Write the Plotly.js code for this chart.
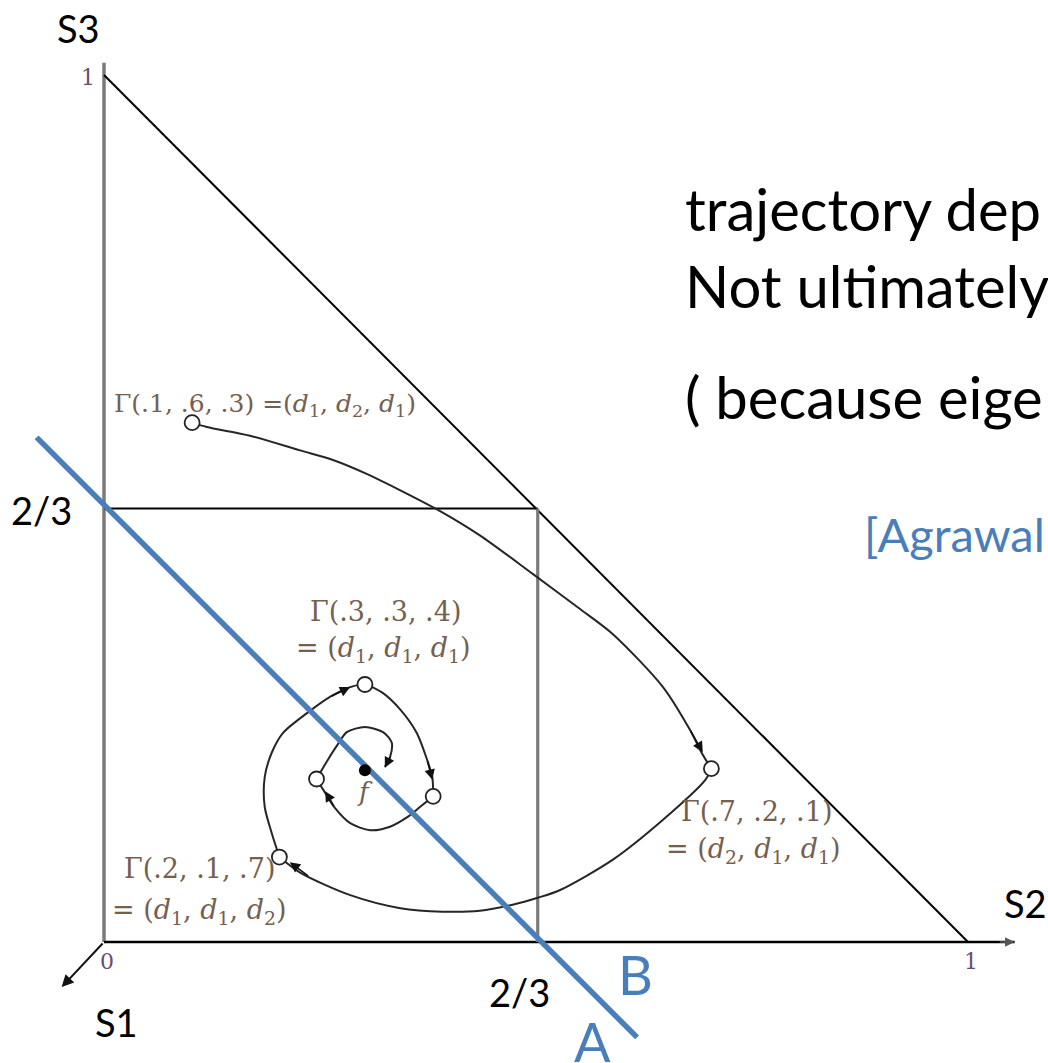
<!DOCTYPE html>
<html>
<head>
<meta charset="utf-8">
<script src="https://cdn.plot.ly/plotly-3.0.1.min.js"></script>
<style>html,body{margin:0;padding:0;background:#fff;}#plot{width:1048px;height:1063px;}</style>
</head>
<body>
<div id="plot"></div>
<script>
// Start points Γ(...) (S2, S3 coordinates of the schematic simplex)
const startS2 = [0.102, 0.703, 0.203, 0.302, 0.381, 0.246];
const startS3 = [0.599, 0.200, 0.098, 0.297, 0.168, 0.188];
// Fixed point
const fixedS2 = [0.302];
const fixedS3 = [0.198];

// Trajectory segments
const seg1S2 = [0.102, 0.119, 0.169, 0.227, 0.265, 0.304, 0.343, 0.389, 0.435, 0.497, 0.551, 0.589, 0.647, 0.678, 0.693, 0.703];
const seg1S3 = [0.599, 0.594, 0.584, 0.567, 0.556, 0.540, 0.521, 0.497, 0.469, 0.424, 0.384, 0.355, 0.294, 0.245, 0.216, 0.200];
const seg2S2 = [0.703, 0.696, 0.647, 0.589, 0.528, 0.502, 0.473, 0.435, 0.392, 0.343, 0.285, 0.227, 0.203];
const seg2S3 = [0.200, 0.187, 0.141, 0.095, 0.060, 0.051, 0.043, 0.036, 0.035, 0.039, 0.054, 0.080, 0.098];
const seg3S2 = [0.203, 0.194, 0.186, 0.186, 0.194, 0.207, 0.235, 0.262, 0.285, 0.302];
const seg3S3 = [0.098, 0.126, 0.156, 0.190, 0.218, 0.241, 0.264, 0.283, 0.294, 0.298];
const seg4S2 = [0.302, 0.323, 0.343, 0.362, 0.374, 0.380, 0.381];
const seg4S3 = [0.298, 0.287, 0.268, 0.241, 0.210, 0.190, 0.168];
const seg5S2 = [0.381, 0.366, 0.351, 0.331, 0.308, 0.285, 0.267, 0.256, 0.246];
const seg5S3 = [0.168, 0.156, 0.144, 0.133, 0.129, 0.137, 0.155, 0.172, 0.188];
const seg6S2 = [0.246, 0.259, 0.270, 0.281, 0.302, 0.323, 0.333, 0.331, 0.325];
const seg6S3 = [0.188, 0.210, 0.227, 0.242, 0.248, 0.242, 0.230, 0.213, 0.202];

// Arrowheads along trajectories: tail -> tip
const arrowTailS2 = [0.678, 0.238, 0.262, 0.374, 0.267, 0.332];
const arrowTailS3 = [0.245, 0.075, 0.283, 0.210, 0.155, 0.215];
const arrowTipS2  = [0.693, 0.215, 0.285, 0.380, 0.256, 0.325];
const arrowTipS3  = [0.219, 0.092, 0.294, 0.187, 0.174, 0.201];

// Simplex frame
const frameS2 = [0, 1];
const frameS3 = [1, 0];
const boxS2 = [0, 0.502, 0.502];
const boxS3 = [0.5, 0.5, 0];
const yAxisS2 = [0, 0];
const yAxisS3 = [0, 1.014];
const xAxisS2 = [0, 1.054];
const xAxisS3 = [0, 0];
// Blue separating line
const blueS2 = [-0.078, 0.617];
const blueS3 = [0.582, -0.110];

// Labels
const gammaLabels = [
  "Γ(.1, .6, .3) =(<i>d</i><sub>1</sub>, <i>d</i><sub>2</sub>, <i>d</i><sub>1</sub>)",
  "Γ(.3, .3, .4)",
  "= (<i>d</i><sub>1</sub>, <i>d</i><sub>1</sub>, <i>d</i><sub>1</sub>)",
  "Γ(.2, .1, .7)",
  "= (<i>d</i><sub>1</sub>, <i>d</i><sub>1</sub>, <i>d</i><sub>2</sub>)",
  "Γ(.7, .2, .1)",
  "= (<i>d</i><sub>2</sub>, <i>d</i><sub>1</sub>, <i>d</i><sub>1</sub>)"
];
const gammaS2 = [0.009, 0.326, 0.323, 0.110, 0.111, 0.755, 0.752];
const gammaS3 = [0.619, 0.381, 0.337, 0.085, 0.035, 0.150, 0.106];
const gammaAnchor = ["left", "center", "center", "center", "center", "center", "center"];

const tickLabels = ["1", "0", "1"];
const tickS2 = [-0.019, 0.003, 1.003];
const tickS3 = [0.997, -0.023, -0.023];

const axisNames = ["S3", "S2", "S1", "2/3", "2/3"];
const axisNameS2 = [-0.030, 1.066, 0.015, -0.072, 0.481];
const axisNameS3 = [1.054, 0.045, -0.092, 0.498, -0.058];

const blueLetters = ["B", "A"];
const blueLetterS2 = [0.615, 0.565];
const blueLetterS3 = [-0.038, -0.115];

const noteLines = ["trajectory dep", "Not ultimately", "( because eige"];
const noteS3 = [0.846, 0.757, 0.629];
const citeText = "[Agrawal";

const BLUE = "#4a7ebb";
const CURVE = "#262626";

const traces = [];
function line(x, y, color, width, shape) {
  traces.push({x: x, y: y, mode: "lines", type: "scatter", hoverinfo: "skip",
    line: {color: color, width: width, shape: shape || "linear", smoothing: 0.8}});
}
line(yAxisS2, yAxisS3, "#7a7a7a", 3.5);
line(xAxisS2, xAxisS3, "#000", 2.6);
line(frameS2, frameS3, "#000", 2);
line(boxS2.slice(0, 2), boxS3.slice(0, 2), "#000", 2.2);
line(boxS2.slice(1), boxS3.slice(1), "#7a7a7a", 3.2);
[[seg1S2, seg1S3], [seg2S2, seg2S3], [seg3S2, seg3S3], [seg4S2, seg4S3], [seg5S2, seg5S3], [seg6S2, seg6S3]]
  .forEach(s => line(s[0], s[1], CURVE, 2, "spline"));
line(blueS2, blueS3, BLUE, 5.5);

traces.push({x: startS2, y: startS3, mode: "markers", type: "scatter", hoverinfo: "skip",
  marker: {symbol: "circle", size: 15, color: "#fff", line: {color: "#222", width: 1.8}}});
traces.push({x: fixedS2, y: fixedS3, mode: "markers", type: "scatter", hoverinfo: "skip",
  marker: {symbol: "circle", size: 12, color: "#000"}});

const annotations = [];
for (let i = 0; i < arrowTipS2.length; i++) {
  annotations.push({x: arrowTipS2[i], y: arrowTipS3[i], ax: arrowTailS2[i], ay: arrowTailS3[i],
    xref: "x", yref: "y", axref: "x", ayref: "y", text: "", showarrow: true,
    arrowhead: 2, arrowsize: 1.3, arrowwidth: 1.6, arrowcolor: "#111", standoff: 0});
}
// Axis arrows
annotations.push({x: 1.054, y: 0, ax: 1.035, ay: 0, xref: "x", yref: "y", axref: "x", ayref: "y",
  text: "", showarrow: true, arrowhead: 2, arrowsize: 1.2, arrowwidth: 1.6, arrowcolor: "#555"});
annotations.push({x: -0.049, y: -0.052, ax: 0, ay: 0, xref: "x", yref: "y", axref: "x", ayref: "y",
  text: "", showarrow: true, arrowhead: 2, arrowsize: 1.2, arrowwidth: 2, arrowcolor: "#111"});

for (let i = 0; i < gammaLabels.length; i++) {
  annotations.push({x: gammaS2[i], y: gammaS3[i], xref: "x", yref: "y", text: gammaLabels[i],
    showarrow: false, xanchor: gammaAnchor[i], yanchor: "middle",
    font: {family: "DejaVu Serif", size: i === 0 ? 25 : 27, color: "#75604f"}});
}
annotations.push({x: 0.302, y: 0.173, xref: "x", yref: "y", text: "<i>f</i>", showarrow: false,
  font: {family: "DejaVu Serif", size: 26, color: "#75604f"}});
for (let i = 0; i < tickLabels.length; i++) {
  annotations.push({x: tickS2[i], y: tickS3[i], xref: "x", yref: "y", text: tickLabels[i],
    showarrow: false, font: {family: "DejaVu Serif", size: 22, color: "#6b4c72"}});
}
for (let i = 0; i < axisNames.length; i++) {
  annotations.push({x: axisNameS2[i], y: axisNameS3[i], xref: "x", yref: "y", text: axisNames[i],
    showarrow: false, font: {family: "Lato", size: 38, color: "#000"}});
}
for (let i = 0; i < blueLetters.length; i++) {
  annotations.push({x: blueLetterS2[i], y: blueLetterS3[i], xref: "x", yref: "y", text: blueLetters[i],
    showarrow: false, font: {family: "Lato", size: 54, color: BLUE}});
}
for (let i = 0; i < noteLines.length; i++) {
  annotations.push({x: 0.670, y: noteS3[i], xref: "x", yref: "y", text: noteLines[i],
    showarrow: false, xanchor: "left", yanchor: "middle",
    font: {family: "Lato", size: 58, color: "#000"}});
}
annotations.push({x: 0.877, y: 0.471, xref: "x", yref: "y", text: citeText, showarrow: false,
  xanchor: "left", yanchor: "middle", font: {family: "Lato", size: 47, color: BLUE}});

const layout = {
  width: 1048, height: 1063,
  margin: {l: 0, r: 0, t: 0, b: 0},
  paper_bgcolor: "#fff", plot_bgcolor: "#fff",
  showlegend: false,
  xaxis: {range: [-0.12037, 1.09259], visible: false, fixedrange: true},
  yaxis: {range: [-0.13956, 1.08651], visible: false, fixedrange: true},
  annotations: annotations
};
Plotly.newPlot("plot", traces, layout, {displayModeBar: false, staticPlot: true});
</script>
</body>
</html>
